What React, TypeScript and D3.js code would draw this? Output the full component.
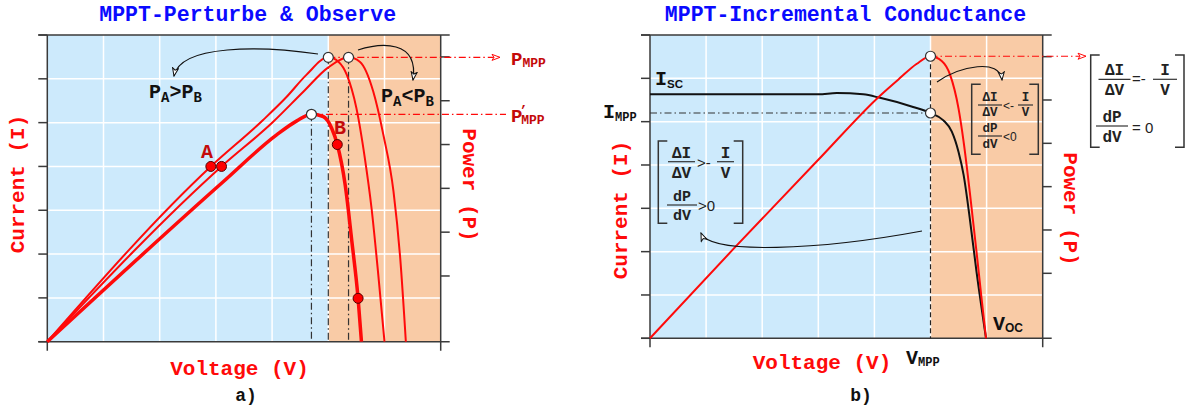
import React from "react";
import * as d3 from "d3";

type Pt = [number, number];
type Scale = d3.ScaleLinear<number, number>;

const MONO = "'Liberation Mono', 'Courier New', monospace";
const SANS = "'Liberation Sans', Arial, sans-serif";

const BLUE_BG = "#cdeafc";
const ORANGE_BG = "#f9cba6";
const AXIS = "#3a3a3a";
const RED = "#ff0a0a";
const DARK_RED = "#c40a0a";
const TITLE_BLUE = "#0a0aff";
const DASH_DOT = "7,3,1.5,3";

// both panels share a 7 x 7 unit grid
const gridSteps = [0, 1, 2, 3, 4, 5, 6, 7];
const powerTicks = [1.5, 2.5, 3.5, 4.5, 5.5, 6.5];
const mppZoneStart = 5;

// panel a) P-V curves (voltage, power)
const pvUpper: Pt[] = [[0, 0], [2.91, 4.0], [3.84, 5.06], [4.26, 5.59], [4.61, 6.09], [5.0, 6.49], [5.18, 6.39], [5.33, 6.09], [5.5, 5.33], [5.65, 4.19], [5.77, 3.04], [5.89, 1.52], [6.0, 0]];
const pvLower: Pt[] = [[0, 0], [3.1, 4.0], [4.02, 5.02], [4.56, 5.71], [5.0, 6.26], [5.36, 6.49], [5.56, 6.39], [5.8, 5.71], [5.98, 4.72], [6.16, 3.43], [6.28, 1.9], [6.38, 0]];
const pvShaded: Pt[] = [[0, 0], [3.13, 3.65], [4.08, 4.72], [4.44, 5.04], [4.7, 5.19], [4.91, 5.14], [5.06, 4.87], [5.16, 4.5], [5.3, 3.58], [5.42, 2.28], [5.53, 0.99], [5.59, 0]];
const pointsA: Pt[] = [[2.91, 4.0], [3.1, 4.0]];
const pointsB: Pt[] = [[5.16, 4.5], [5.53, 0.99]];
const mppA: Pt[] = [[5.0, 6.49], [5.36, 6.49], [4.7, 5.19]];

// panel b) power and current
const pvB: Pt[] = [[0, 0], [1.5, 2.08], [3.0, 4.12], [4.1, 5.6], [4.45, 6.0], [4.75, 6.33], [5.0, 6.51], [5.2, 6.4], [5.35, 6.08], [5.5, 5.3], [5.59, 4.54], [5.7, 3.38], [5.82, 2.0], [5.91, 0.92], [5.99, 0]];
const ivB: Pt[] = [[0, 5.63], [3.0, 5.63], [3.33, 5.66], [3.8, 5.63], [4.1, 5.55], [4.69, 5.34], [5.0, 5.2], [5.23, 5.03], [5.38, 4.77], [5.5, 4.3], [5.59, 3.77], [5.7, 2.77], [5.82, 1.54], [5.99, 0]];
const mppB: Pt = [5.0, 6.51];
const impB: Pt = [5.0, 5.2];

function Frame({ x, y }: { x: Scale; y: Scale }) {
  const [x0, x1] = x.range();
  const [yb, yt] = y.range();
  const xm = x(mppZoneStart);
  return (
    <g>
      <rect x={x0} y={yt} width={xm - x0} height={yb - yt} fill={BLUE_BG} />
      <rect x={xm} y={yt} width={x1 - xm} height={yb - yt} fill={ORANGE_BG} />
      {gridSteps.slice(1, -1).map((v) => (
        <line key={"gv" + v} x1={x(v)} x2={x(v)} y1={yt} y2={yb} stroke="#fff" strokeWidth={1.5} />
      ))}
      {gridSteps.slice(1, -1).map((p) => (
        <line key={"gh" + p} x1={x0} x2={x1} y1={y(p)} y2={y(p)} stroke="#fff" strokeWidth={1.5} />
      ))}
      {gridSteps.map((p) => (
        <line key={"lt" + p} x1={x0 - 9} x2={x0} y1={y(p)} y2={y(p)} stroke={AXIS} strokeWidth={1.5} />
      ))}
      {powerTicks.map((p) => (
        <line key={"rt" + p} x1={x1} x2={x1 + 9} y1={y(p)} y2={y(p)} stroke={AXIS} strokeWidth={1.5} />
      ))}
      <line x1={x0 - 9} x2={x1 + 9} y1={yt} y2={yt} stroke={AXIS} strokeWidth={1.5} />
      <line x1={x0 - 9} x2={x1 + 9} y1={yb} y2={yb} stroke={AXIS} strokeWidth={1.5} />
      <line x1={x0} x2={x0} y1={yt} y2={yb + 9} stroke={AXIS} strokeWidth={1.5} />
      <line x1={x1} x2={x1} y1={yt} y2={yb + 9} stroke={AXIS} strokeWidth={1.5} />
    </g>
  );
}

function Frac({ cx, y, num, den, half, size, gap }: { cx: number; y: number; num: string; den: string; half: number; size: number; gap: number }) {
  return (
    <g fontFamily={MONO} fontWeight="bold" fontSize={size} fill="#222" textAnchor="middle">
      <text x={cx} y={y - 4}>{num}</text>
      <line x1={cx - half} x2={cx + half} y1={y} y2={y} stroke="#333" strokeWidth={1.2} />
      <text x={cx} y={y + gap}>{den}</text>
    </g>
  );
}

function Brackets({ x0, x1, y0, y1 }: { x0: number; x1: number; y0: number; y1: number }) {
  const s = 9;
  return (
    <g fill="none" stroke="#333" strokeWidth={1.5}>
      <path d={`M${x0 + s},${y0} L${x0},${y0} L${x0},${y1} L${x0 + s},${y1}`} />
      <path d={`M${x1 - s},${y0} L${x1},${y0} L${x1},${y1} L${x1 - s},${y1}`} />
    </g>
  );
}

const labelStyle = { fontFamily: MONO, fontWeight: "bold" as const };

export default function App() {
  const xA = d3.scaleLinear().domain([0, 7]).range([47.3, 440.7]);
  const yA = d3.scaleLinear().domain([0, 7]).range([341.7, 35]);
  const xB = d3.scaleLinear().domain([0, 7]).range([650, 1042.7]);
  const yB = d3.scaleLinear().domain([0, 7]).range([338.3, 35]);

  const lineA = d3.line<Pt>().x((d) => xA(d[0])).y((d) => yA(d[1])).curve(d3.curveMonotoneX);
  const lineB = d3.line<Pt>().x((d) => xB(d[0])).y((d) => yB(d[1])).curve(d3.curveMonotoneX);

  return (
    <svg width={1188} height={412} style={{ position: "absolute", left: 0, top: 0, background: "#fff" }}>
      <defs>
        <marker id="arrBlack" viewBox="0 0 10 8" refX={9} refY={4} markerWidth={10} markerHeight={8} markerUnits="userSpaceOnUse" orient="auto">
          <path d="M1,1 L9,4 L1,7 L3,4 Z" fill="#fff" stroke="#111" strokeWidth={1} />
        </marker>
        <marker id="arrRed" viewBox="0 0 10 8" refX={9} refY={4} markerWidth={10} markerHeight={8} markerUnits="userSpaceOnUse" orient="auto">
          <path d="M1,1 L9,4 L1,7 L3,4 Z" fill="#fff" stroke={RED} strokeWidth={1} />
        </marker>
      </defs>

      {/* ---------- panel a ---------- */}
      <text x={247.7} y={21} textAnchor="middle" fontSize={21.5} fill={TITLE_BLUE} style={labelStyle}>MPPT-Perturbe &amp; Observe</text>
      <Frame x={xA} y={yA} />

      {mppA.map((d, i) => (
        <line key={"va" + i} x1={xA(d[0])} x2={xA(d[0])} y1={yA(d[1])} y2={yA(0)} stroke="#333" strokeWidth={1.2} strokeDasharray={DASH_DOT} />
      ))}
      <line x1={xA(mppA[0][0])} x2={500} y1={yA(mppA[0][1])} y2={yA(mppA[0][1])} stroke={RED} strokeWidth={1.2} strokeDasharray={DASH_DOT} markerEnd="url(#arrRed)" />
      <line x1={xA(mppA[2][0])} x2={506} y1={yA(mppA[2][1])} y2={yA(mppA[2][1])} stroke={RED} strokeWidth={1.2} strokeDasharray={DASH_DOT} />

      <path d={lineA(pvUpper) || ""} fill="none" stroke={RED} strokeWidth={2} />
      <path d={lineA(pvLower) || ""} fill="none" stroke={RED} strokeWidth={2} />
      <path d={lineA(pvShaded) || ""} fill="none" stroke={RED} strokeWidth={3.5} />

      {[...pointsA, ...pointsB].map((d, i) => (
        <circle key={"pa" + i} cx={xA(d[0])} cy={yA(d[1])} r={5} fill="#f00" stroke="#500" strokeWidth={1} />
      ))}
      {mppA.map((d, i) => (
        <circle key={"ma" + i} cx={xA(d[0])} cy={yA(d[1])} r={5} fill="#fff" stroke="#333" strokeWidth={1.2} />
      ))}

      <path d="M318,54 C262,46 180,44 174,76" fill="none" stroke="#111" strokeWidth={1.2} markerEnd="url(#arrBlack)" />
      <path d="M358,50 C380,43 419,39 413,80" fill="none" stroke="#111" strokeWidth={1.2} markerEnd="url(#arrBlack)" />

      <text x={149} y={98} fontSize={20} fill="#111" style={labelStyle}>
        P<tspan fontSize={14} dy={4}>A</tspan><tspan dy={-4}>&gt;P</tspan><tspan fontSize={14} dy={4}>B</tspan>
      </text>
      <text x={381} y={102} fontSize={20} fill="#111" style={labelStyle}>
        P<tspan fontSize={14} dy={4}>A</tspan><tspan dy={-4}>&lt;P</tspan><tspan fontSize={14} dy={4}>B</tspan>
      </text>
      <text x={201} y={158} fontSize={20} fill={DARK_RED} style={labelStyle}>A</text>
      <text x={334} y={134} fontSize={20} fill={DARK_RED} style={labelStyle}>B</text>

      <text x={511} y={65} fontSize={19} fill={DARK_RED} style={labelStyle}>
        P<tspan fontSize={13} dy={2}>MPP</tspan>
      </text>
      <text x={511} y={122} fontSize={19} fill={DARK_RED} style={labelStyle}>
        P<tspan fontSize={13} dx={-3} dy={-8}>’</tspan><tspan fontSize={13} dx={-6} dy={10}>MPP</tspan>
      </text>

      <text transform="translate(24,184) rotate(-90)" textAnchor="middle" fontSize={21} fill={RED} style={labelStyle}>Current (I)</text>
      <text transform="translate(463,185) rotate(90)" textAnchor="middle" fontSize={21} fill={RED} style={labelStyle}>Power (P)</text>
      <text x={239.5} y={375} textAnchor="middle" fontSize={21} fill={RED} style={labelStyle}>Voltage (V)</text>
      <text x={246} y={401} textAnchor="middle" fontSize={18} fill="#111" style={labelStyle}>a)</text>

      {/* ---------- panel b ---------- */}
      <text x={845.5} y={21} textAnchor="middle" fontSize={21.5} fill={TITLE_BLUE} style={labelStyle}>MPPT-Incremental Conductance</text>
      <Frame x={xB} y={yB} />

      <line x1={xB(mppB[0])} x2={xB(mppB[0])} y1={yB(mppB[1])} y2={yB(0)} stroke="#222" strokeWidth={1.2} strokeDasharray="5,3" />
      <line x1={xB(0)} x2={xB(impB[0])} y1={yB(impB[1])} y2={yB(impB[1])} stroke="#333" strokeWidth={1.2} strokeDasharray={DASH_DOT} />
      <line x1={xB(mppB[0])} x2={1086} y1={yB(mppB[1])} y2={yB(mppB[1])} stroke={RED} strokeWidth={1.2} strokeDasharray={DASH_DOT} markerEnd="url(#arrRed)" />

      <path d={lineB(ivB) || ""} fill="none" stroke="#111" strokeWidth={2} />
      <path d={lineB(pvB) || ""} fill="none" stroke={RED} strokeWidth={2} />
      <circle cx={xB(mppB[0])} cy={yB(mppB[1])} r={5} fill="#fff" stroke="#333" strokeWidth={1.2} />
      <circle cx={xB(impB[0])} cy={yB(impB[1])} r={5} fill="#fff" stroke="#333" strokeWidth={1.2} />

      <path d="M922,231 C820,250 710,255 701,233" fill="none" stroke="#111" strokeWidth={1.2} markerEnd="url(#arrBlack)" />
      <path d="M937,82 C960,66 1000,58 1002,80" fill="none" stroke="#111" strokeWidth={1.2} markerEnd="url(#arrBlack)" />

      {/* left condition box */}
      <Brackets x0={658.3} x1={742.7} y0={141} y1={223.3} />
      <Frac cx={681.5} y={161.7} num="ΔI" den="ΔV" half={13.5} size={16} gap={16} />
      <text x={697} y={168} fontSize={15} fontFamily={SANS} fill="#222">&gt;-</text>
      <Frac cx={725.5} y={161.7} num="I" den="V" half={8.5} size={16} gap={16} />
      <Frac cx={682} y={205} num="dP" den="dV" half={15} size={15} gap={15} />
      <text x={698} y={210.5} fontSize={15} fontFamily={SANS} fill="#222">&gt;0</text>

      {/* right condition box */}
      <Brackets x0={971.7} x1={1038.3} y0={84.3} y1={154.3} />
      <Frac cx={990} y={105} num="ΔI" den="ΔV" half={12} size={12.5} gap={10.5} />
      <text x={1003} y={110} fontSize={12} fontFamily={SANS} fill="#222">&lt;-</text>
      <Frac cx={1025.5} y={105} num="I" den="V" half={7.5} size={12.5} gap={10.5} />
      <Frac cx={990} y={136} num="dP" den="dV" half={12} size={12.5} gap={12} />
      <text x={1003} y={141} fontSize={12} fontFamily={SANS} fill="#222">&lt;0</text>

      {/* MPP condition box */}
      <Brackets x0={1090.7} x1={1184} y0={55} y1={147.3} />
      <Frac cx={1114.5} y={79.3} num="ΔI" den="ΔV" half={16} size={16} gap={16} />
      <text x={1132} y={84} fontSize={15} fontFamily={SANS} fill="#222">=-</text>
      <Frac cx={1165} y={79.3} num="I" den="V" half={12} size={16} gap={16} />
      <Frac cx={1112} y={126} num="dP" den="dV" half={16} size={16} gap={16} />
      <text x={1132} y={133} fontSize={15} fontFamily={SANS} fill="#222">= 0</text>

      <text x={655} y={84.5} fontSize={20} fill="#111" style={labelStyle}>
        I<tspan fontSize={11.5} dy={3} fontFamily={SANS}>SC</tspan>
      </text>
      <text x={603} y={118} fontSize={20} fill="#111" style={labelStyle}>
        I<tspan fontSize={12} dy={3}>MPP</tspan>
      </text>
      <text x={993} y={330} fontSize={20} fill="#111" style={labelStyle}>
        V<tspan fontSize={12} dy={2} fontFamily={SANS}>OC</tspan>
      </text>
      <text x={906} y={364} fontSize={20} fill="#111" style={labelStyle}>
        V<tspan fontSize={12} dy={2}>MPP</tspan>
      </text>

      <text transform="translate(627,210) rotate(-90)" textAnchor="middle" fontSize={21} fill={RED} style={labelStyle}>Current (I)</text>
      <text transform="translate(1064,209) rotate(90)" textAnchor="middle" fontSize={21} fill={RED} style={labelStyle}>Power (P)</text>
      <text x={822} y={369} textAnchor="middle" fontSize={21} fill={RED} style={labelStyle}>Voltage (V)</text>
      <text x={861} y={401} textAnchor="middle" fontSize={18} fill="#111" style={labelStyle}>b)</text>
    </svg>
  );
}
